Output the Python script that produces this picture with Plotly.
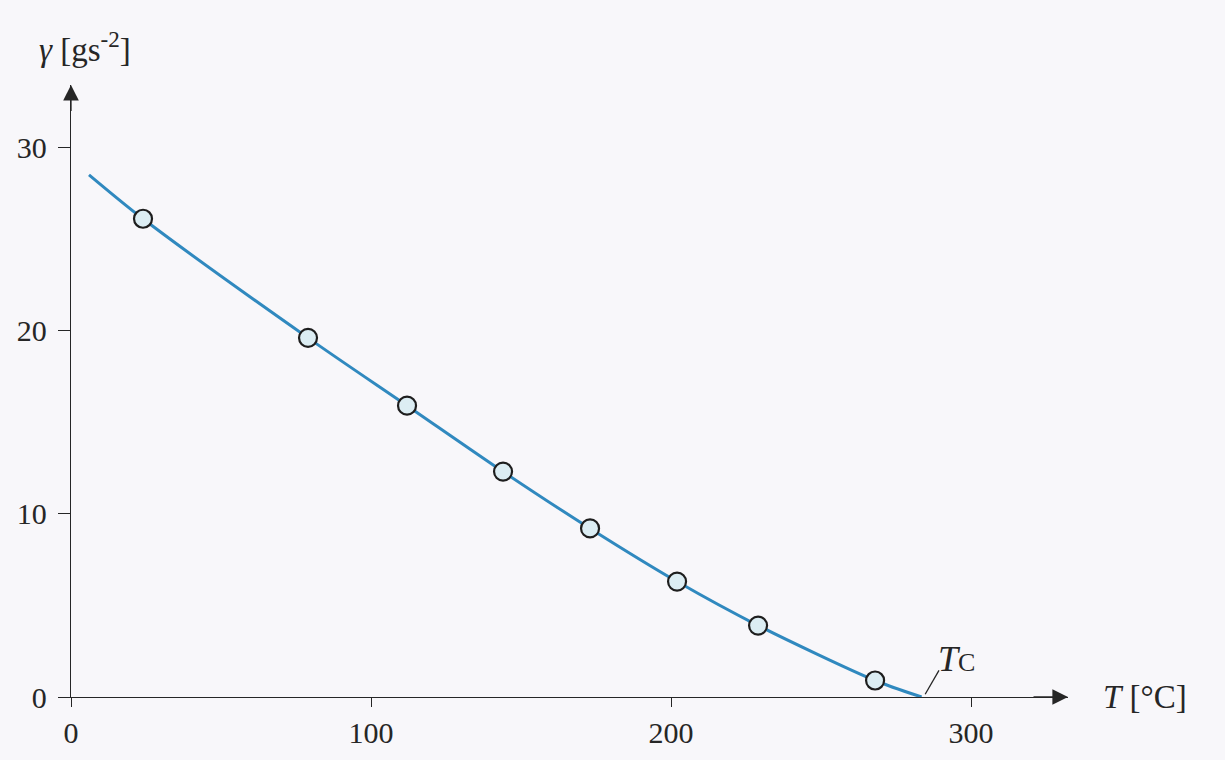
import plotly.graph_objects as go

# data
T_points = [24, 79, 112, 144, 173, 202, 229, 268]
gamma_points = [26.1, 19.6, 15.9, 12.3, 9.2, 6.3, 3.9, 0.9]
T_curve = [6, 24, 79, 112, 144, 173, 202, 229, 268, 283.5]
gamma_curve = [28.5, 26.1, 19.6, 15.9, 12.3, 9.2, 6.3, 3.9, 0.9, 0.0]
x_ticks = [0, 100, 200, 300]
y_ticks = [0, 10, 20, 30]
Tc = 283.5

SERIF = "Liberation Serif"
INK = "#262626"
BG = "#f8f7fa"

fig = go.Figure()
fig.add_trace(go.Scatter(
    x=T_curve, y=gamma_curve, mode="lines",
    line=dict(color="#3089bf", width=3, shape="spline", smoothing=0.8),
    hoverinfo="skip", showlegend=False, cliponaxis=False))
fig.add_trace(go.Scatter(
    x=T_points, y=gamma_points, mode="markers",
    marker=dict(size=18, color="#dcedf3", line=dict(color="#1e1e1e", width=2.2)),
    showlegend=False, cliponaxis=False))

x_max = 332.3
y_max = 33.4

fig.update_layout(
    width=1225, height=760,
    margin=dict(l=71, r=157, t=85, b=63),
    paper_bgcolor=BG, plot_bgcolor=BG,
    font=dict(family=SERIF, size=30, color=INK),
    xaxis=dict(range=[0, x_max], tickvals=x_ticks, ticktext=[str(v) for v in x_ticks],
               showgrid=False, zeroline=False, showline=True, linecolor=INK, linewidth=1.3,
               ticks="outside", ticklen=9, tickwidth=1.2, tickcolor=INK,
               tickfont=dict(family=SERIF, size=30, color=INK), fixedrange=True),
    yaxis=dict(range=[0, y_max], tickvals=y_ticks, ticktext=[str(v) for v in y_ticks],
               showgrid=False, zeroline=False, showline=True, linecolor=INK, linewidth=1.3,
               ticks="outside", ticklen=12, tickwidth=1.2, tickcolor=INK, ticklabelstandoff=5,
               tickfont=dict(family=SERIF, size=30, color=INK), fixedrange=True),
)

# arrow heads on axes
fig.add_annotation(x=x_max, y=0, ax=x_max - 12, ay=0, xref="x", yref="y", axref="x", ayref="y",
                   showarrow=True, arrowhead=2, arrowsize=2.4, arrowwidth=1.3, arrowcolor=INK, text="")
fig.add_annotation(x=0, y=y_max, ax=0, ay=y_max - 1.5, xref="x", yref="y", axref="x", ayref="y",
                   showarrow=True, arrowhead=2, arrowsize=2.4, arrowwidth=1.3, arrowcolor=INK, text="")

# axis titles
fig.add_annotation(x=-0.034, y=1.062, xref="paper", yref="paper", xanchor="left", yanchor="middle",
                   text="<i>γ</i> [gs<sup>-2</sup>]", showarrow=False,
                   font=dict(family=SERIF, size=33, color=INK))
fig.add_annotation(x=1.033, y=0.0, xref="paper", yref="paper", xanchor="left", yanchor="middle",
                   text="<i>T</i> [°C]", showarrow=False,
                   font=dict(family=SERIF, size=33, color=INK))

# Tc label with leader line
fig.add_shape(type="line", x0=Tc + 1.2, y0=0.15, x1=Tc + 5.8, y1=1.45, xref="x", yref="y",
              line=dict(color=INK, width=1.3))
fig.add_annotation(x=Tc + 4.8, y=2.05, xref="x", yref="y", xanchor="left", yanchor="middle",
                   text="<i>T</i><span style='font-size:26px'>C</span>", showarrow=False,
                   font=dict(family=SERIF, size=36, color=INK))

fig.write_html("out.html", config={"displayModeBar": False},
               post_script="document.body.style.margin='0';document.body.style.background='#f8f7fa';")
